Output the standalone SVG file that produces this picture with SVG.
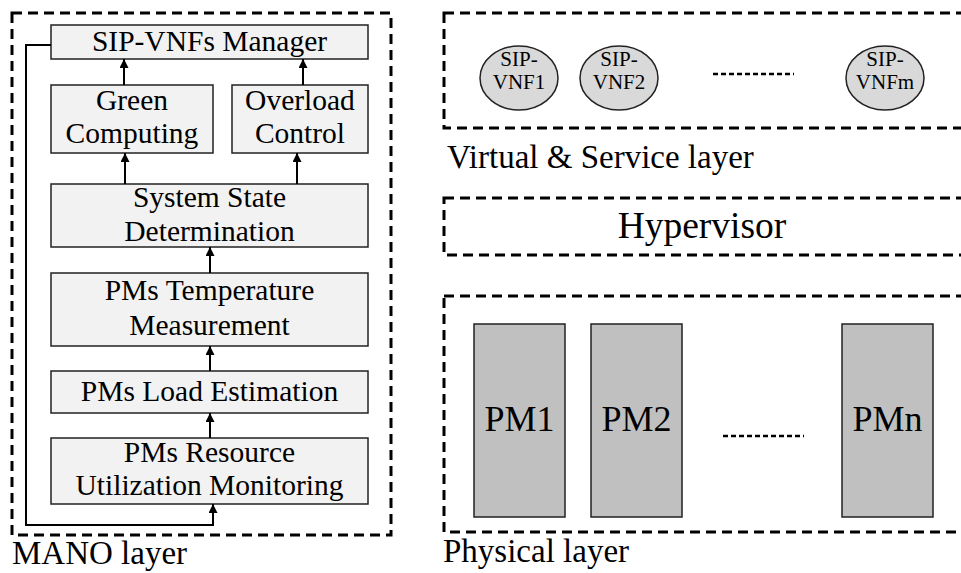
<svg xmlns="http://www.w3.org/2000/svg" width="961" height="573" viewBox="0 0 961 573" font-family="Liberation Serif, Times New Roman, serif">
  <style>
    text { font-family: 'Liberation Serif', 'Times New Roman', serif; fill: #000; }
    .layer { fill: none; stroke: #000; stroke-width: 3; stroke-dasharray: 10 6; }
    .blk { fill: #f2f2f2; stroke: #222; stroke-width: 1.5; }
    .blk-t { font-size: 29.5px; text-anchor: middle; }
    .vnf { fill: #d9d9d9; stroke: #222; stroke-width: 1.5; }
    .vnf-t { font-size: 21px; text-anchor: middle; }
    .pm { fill: #c0c0c0; stroke: #222; stroke-width: 1.5; }
    .pm-t { font-size: 36px; text-anchor: middle; }
    .lbl { font-size: 33px; }
    .dots { stroke: #000; stroke-width: 2.5; stroke-dasharray: 5 3; fill: none; }
    .conn { fill: none; stroke: #000; stroke-width: 2; marker-end: url(#head); }
  </style>
  <defs>
    <marker id="head" viewBox="0 0 10 10" refX="10" refY="5" markerWidth="9" markerHeight="9" markerUnits="userSpaceOnUse" orient="auto">
      <path d="M0,0 L10,5 L0,10 z" fill="#000"/>
    </marker>
  </defs>

  <!-- layer frames -->
  <g id="mano-layer">
    <rect class="layer" x="12" y="13" width="379" height="522"/>
    <text class="lbl" x="12" y="564">MANO layer</text>
  </g>
  <g id="virtual-layer">
    <rect class="layer" x="444" y="13" width="530" height="115"/>
    <text class="lbl" x="447" y="168">Virtual &amp; Service layer</text>
  </g>
  <g id="hypervisor">
    <rect class="layer" x="444" y="198" width="530" height="57"/>
    <text x="702" y="238" font-size="37.5" text-anchor="middle">Hypervisor</text>
  </g>
  <g id="physical-layer">
    <rect class="layer" x="444" y="296" width="530" height="236"/>
    <text class="lbl" x="443" y="562">Physical layer</text>
  </g>

  <!-- MANO functional blocks -->
  <g id="sip-vnfs-manager">
    <rect class="blk" x="51" y="25" width="317" height="34"/>
    <text class="blk-t" x="209.5" y="51">SIP-VNFs Manager</text>
  </g>
  <g id="green-computing">
    <rect class="blk" x="51" y="85" width="162" height="68"/>
    <text class="blk-t" x="132" y="110">Green</text>
    <text class="blk-t" x="132" y="143">Computing</text>
  </g>
  <g id="overload-control">
    <rect class="blk" x="232" y="85" width="136" height="68"/>
    <text class="blk-t" x="300" y="110">Overload</text>
    <text class="blk-t" x="300" y="143">Control</text>
  </g>
  <g id="system-state">
    <rect class="blk" x="51" y="184" width="317" height="63"/>
    <text class="blk-t" x="209.5" y="207">System State</text>
    <text class="blk-t" x="209.5" y="241">Determination</text>
  </g>
  <g id="pms-temperature">
    <rect class="blk" x="51" y="273" width="317" height="73"/>
    <text class="blk-t" x="209.5" y="300">PMs Temperature</text>
    <text class="blk-t" x="209.5" y="335">Measurement</text>
  </g>
  <g id="pms-load">
    <rect class="blk" x="51" y="371" width="317" height="42"/>
    <text class="blk-t" x="209.5" y="401">PMs Load Estimation</text>
  </g>
  <g id="pms-resource">
    <rect class="blk" x="51" y="438" width="317" height="66"/>
    <text class="blk-t" x="209.5" y="462">PMs Resource</text>
    <text class="blk-t" x="209.5" y="495">Utilization Monitoring</text>
  </g>

  <!-- virtual network functions -->
  <g id="sip-vnf1">
    <ellipse class="vnf" cx="519" cy="78" rx="39" ry="32"/>
    <text class="vnf-t" x="519" y="66">SIP-</text>
    <text class="vnf-t" x="519" y="89">VNF1</text>
  </g>
  <g id="sip-vnf2">
    <ellipse class="vnf" cx="619" cy="78" rx="39" ry="32"/>
    <text class="vnf-t" x="619" y="66">SIP-</text>
    <text class="vnf-t" x="619" y="89">VNF2</text>
  </g>
  <line class="dots" x1="713" y1="74" x2="794" y2="74"/>
  <g id="sip-vnfm">
    <ellipse class="vnf" cx="885" cy="78" rx="39" ry="32"/>
    <text class="vnf-t" x="885" y="66">SIP-</text>
    <text class="vnf-t" x="885" y="89">VNFm</text>
  </g>

  <!-- physical machines -->
  <g id="pm1">
    <rect class="pm" x="474" y="324" width="91" height="193"/>
    <text class="pm-t" x="519.5" y="431">PM1</text>
  </g>
  <g id="pm2">
    <rect class="pm" x="591" y="324" width="91" height="193"/>
    <text class="pm-t" x="636.5" y="431">PM2</text>
  </g>
  <line class="dots" x1="723" y1="436" x2="804" y2="436"/>
  <g id="pmn">
    <rect class="pm" x="842" y="324" width="91" height="193"/>
    <text class="pm-t" x="887.5" y="431">PMn</text>
  </g>

  <!-- connectors -->
  <g id="connectors">
    <line class="conn" x1="124" y1="85" x2="124" y2="59"/>
    <line class="conn" x1="303" y1="85" x2="303" y2="59"/>
    <line class="conn" x1="125" y1="184" x2="125" y2="153"/>
    <line class="conn" x1="297" y1="184" x2="297" y2="153"/>
    <line class="conn" x1="210" y1="273" x2="210" y2="247"/>
    <line class="conn" x1="210" y1="371" x2="210" y2="346"/>
    <line class="conn" x1="210" y1="438" x2="210" y2="413"/>
    <polyline class="conn" points="51,45 26,45 26,525 213,525 213,504"/>
  </g>
</svg>
